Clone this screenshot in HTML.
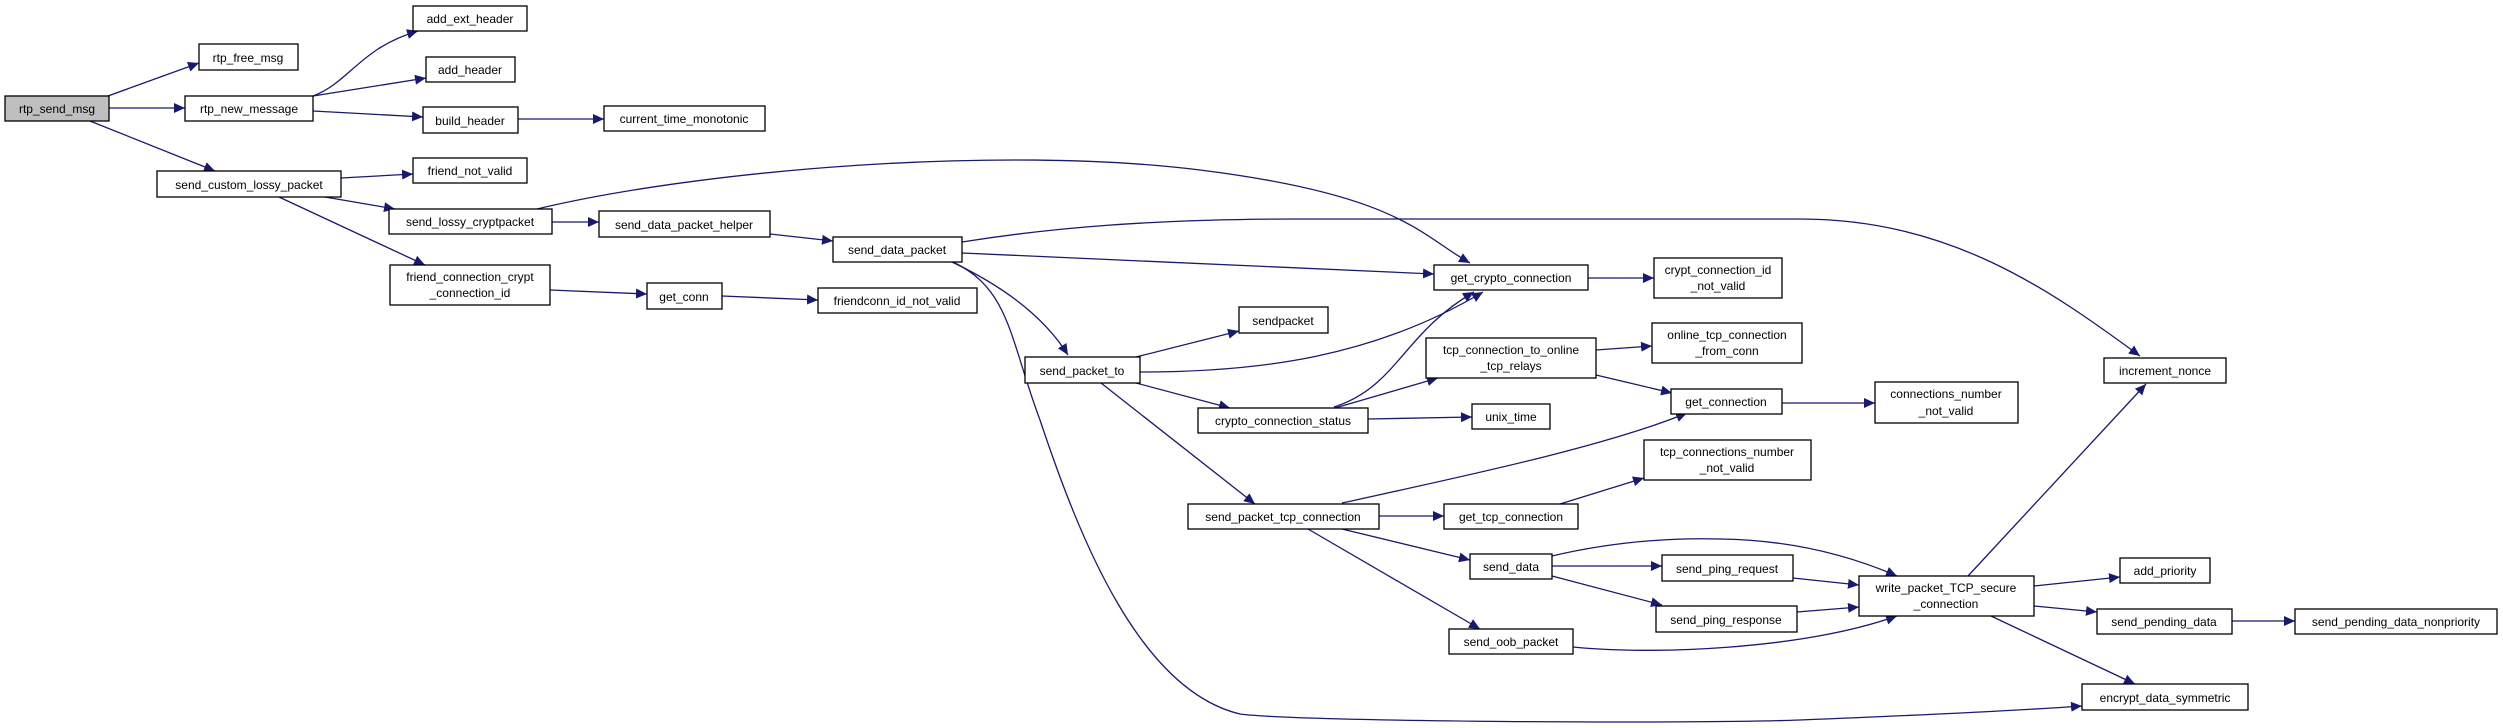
<!DOCTYPE html>
<html><head><meta charset="utf-8"><style>
html,body{margin:0;padding:0;background:#fff;}
svg{display:block}
text{font-family:"Liberation Sans",sans-serif;font-size:12px;fill:#000;text-anchor:middle}
.n{fill:#fff;stroke:#000;stroke-width:1.3}
.e{fill:none;stroke:#191970;stroke-width:1.3}
</style></head><body>
<svg width="2503" height="728" viewBox="0 0 2503 728" xmlns="http://www.w3.org/2000/svg">
<defs><marker id="a" markerUnits="userSpaceOnUse" markerWidth="12" markerHeight="10" refX="11" refY="5" orient="auto"><path d="M0,0 L11,5 L0,10 z" fill="#191970"/></marker></defs>
<g class="e" marker-end="url(#a)">
<path d="M108,96 L199,63"/>
<path d="M109,108 L185,108"/>
<path d="M90,121 L215,171"/>
<path d="M313,96 C350,82 360,48 418,31"/>
<path d="M313,96 L426,78"/>
<path d="M313,111 L423,117"/>
<path d="M518,119 L604,119"/>
<path d="M341,178 L413,174"/>
<path d="M325,197 L395,209"/>
<path d="M279,197 L425,265"/>
<path d="M552,222 L599,222"/>
<path d="M537,209 C700,170 1000,145 1200,170 S1420,235 1470,263"/>
<path d="M770,234 L833,241"/>
<path d="M722,296 L818,300"/>
<path d="M550,290 L647,294"/>
<path d="M962,242 C1050,228 1150,219 1300,219 L1800,219 C1950,219 2050,290 2140,356"/>
<path d="M962,253 L1434,274"/>
<path d="M952,262 C990,280 1040,310 1068,355"/>
<path d="M955,263 C1010,290 1010,340 1040,420 C1080,540 1140,690 1240,714 C1300,722 1700,724 1800,720 C1950,714 2040,709 2082,706"/>
<path d="M1136,357 L1239,331"/>
<path d="M1140,372 C1260,372 1374,357 1483,292"/>
<path d="M1136,383 L1230,408"/>
<path d="M1101,383 L1255,504"/>
<path d="M1334,407 C1397,387 1403,333 1474,292"/>
<path d="M1335,408 L1438,378"/>
<path d="M1368,419 L1472,417"/>
<path d="M1596,350 L1652,346"/>
<path d="M1596,375 L1672,393"/>
<path d="M1782,403 L1875,403"/>
<path d="M1342,503 C1460,477 1604,447 1687,413"/>
<path d="M1379,516 L1444,516"/>
<path d="M1560,504 L1644,478"/>
<path d="M1342,529 L1470,560"/>
<path d="M1308,529 L1480,629"/>
<path d="M1552,566 L1662,566"/>
<path d="M1552,576 L1662,605"/>
<path d="M1552,556 C1620,540 1680,538 1720,539 C1800,540 1860,560 1897,576"/>
<path d="M1793,578 L1859,585"/>
<path d="M1797,612 L1859,607"/>
<path d="M1573,647 C1650,655 1800,650 1897,616"/>
<path d="M1968,576 L2146,384"/>
<path d="M2034,586 L2120,577"/>
<path d="M2034,606 L2097,612"/>
<path d="M1991,616 L2135,684"/>
<path d="M2232,621 L2295,621"/>
<path d="M1588,278 L1654,278"/>
</g>
<g>
<rect x="5" y="96" width="104" height="25" fill="#bfbfbf" stroke="#000" stroke-width="1.3"/><text x="57" y="113">rtp_send_msg</text>
<rect class="n" x="199" y="44" width="99" height="26"/><text x="248" y="62">rtp_free_msg</text>
<rect class="n" x="185" y="96" width="128" height="25"/><text x="249" y="113">rtp_new_message</text>
<rect class="n" x="413" y="6" width="114" height="25"/><text x="470" y="23">add_ext_header</text>
<rect class="n" x="426" y="57" width="89" height="25"/><text x="470" y="74">add_header</text>
<rect class="n" x="423" y="107" width="95" height="26"/><text x="470" y="125">build_header</text>
<rect class="n" x="604" y="106" width="161" height="25"/><text x="684" y="123">current_time_monotonic</text>
<rect class="n" x="157" y="171" width="184" height="26"/><text x="249" y="189">send_custom_lossy_packet</text>
<rect class="n" x="413" y="158" width="114" height="25"/><text x="470" y="175">friend_not_valid</text>
<rect class="n" x="389" y="209" width="163" height="25"/><text x="470" y="226">send_lossy_cryptpacket</text>
<rect class="n" x="599" y="211" width="171" height="26"/><text x="684" y="229">send_data_packet_helper</text>
<rect class="n" x="390" y="265" width="160" height="40"/><text x="470" y="281">friend_connection_crypt</text><text x="470" y="297">_connection_id</text>
<rect class="n" x="647" y="283" width="75" height="26"/><text x="684" y="301">get_conn</text>
<rect class="n" x="833" y="237" width="129" height="25"/><text x="897" y="254">send_data_packet</text>
<rect class="n" x="818" y="288" width="159" height="25"/><text x="897" y="305">friendconn_id_not_valid</text>
<rect class="n" x="1434" y="265" width="154" height="25"/><text x="1511" y="282">get_crypto_connection</text>
<rect class="n" x="1239" y="307" width="89" height="26"/><text x="1283" y="325">sendpacket</text>
<rect class="n" x="1025" y="357" width="115" height="26"/><text x="1082" y="375">send_packet_to</text>
<rect class="n" x="1426" y="338" width="170" height="40"/><text x="1511" y="354">tcp_connection_to_online</text><text x="1511" y="370">_tcp_relays</text>
<rect class="n" x="1198" y="408" width="170" height="25"/><text x="1283" y="425">crypto_connection_status</text>
<rect class="n" x="1472" y="404" width="78" height="25"/><text x="1511" y="421">unix_time</text>
<rect class="n" x="1188" y="504" width="191" height="25"/><text x="1283" y="521">send_packet_tcp_connection</text>
<rect class="n" x="1444" y="504" width="134" height="25"/><text x="1511" y="521">get_tcp_connection</text>
<rect class="n" x="1470" y="554" width="82" height="25"/><text x="1511" y="571">send_data</text>
<rect class="n" x="1449" y="629" width="124" height="25"/><text x="1511" y="646">send_oob_packet</text>
<rect class="n" x="1654" y="258" width="128" height="40"/><text x="1718" y="274">crypt_connection_id</text><text x="1718" y="290">_not_valid</text>
<rect class="n" x="1652" y="323" width="150" height="40"/><text x="1727" y="339">online_tcp_connection</text><text x="1727" y="355">_from_conn</text>
<rect class="n" x="1671" y="389" width="111" height="25"/><text x="1726" y="406">get_connection</text>
<rect class="n" x="1644" y="440" width="167" height="40"/><text x="1727" y="456">tcp_connections_number</text><text x="1727" y="472">_not_valid</text>
<rect class="n" x="1662" y="555" width="131" height="26"/><text x="1727" y="573">send_ping_request</text>
<rect class="n" x="1656" y="606" width="141" height="26"/><text x="1726" y="624">send_ping_response</text>
<rect class="n" x="1875" y="382" width="143" height="41"/><text x="1946" y="398">connections_number</text><text x="1946" y="415">_not_valid</text>
<rect class="n" x="1859" y="576" width="175" height="40"/><text x="1946" y="592">write_packet_TCP_secure</text><text x="1946" y="608">_connection</text>
<rect class="n" x="2104" y="358" width="122" height="25"/><text x="2165" y="375">increment_nonce</text>
<rect class="n" x="2120" y="558" width="90" height="25"/><text x="2165" y="575">add_priority</text>
<rect class="n" x="2097" y="609" width="135" height="25"/><text x="2164" y="626">send_pending_data</text>
<rect class="n" x="2295" y="609" width="202" height="25"/><text x="2396" y="626">send_pending_data_nonpriority</text>
<rect class="n" x="2082" y="684" width="166" height="26"/><text x="2165" y="702">encrypt_data_symmetric</text>
</g>
</svg>
</body></html>
